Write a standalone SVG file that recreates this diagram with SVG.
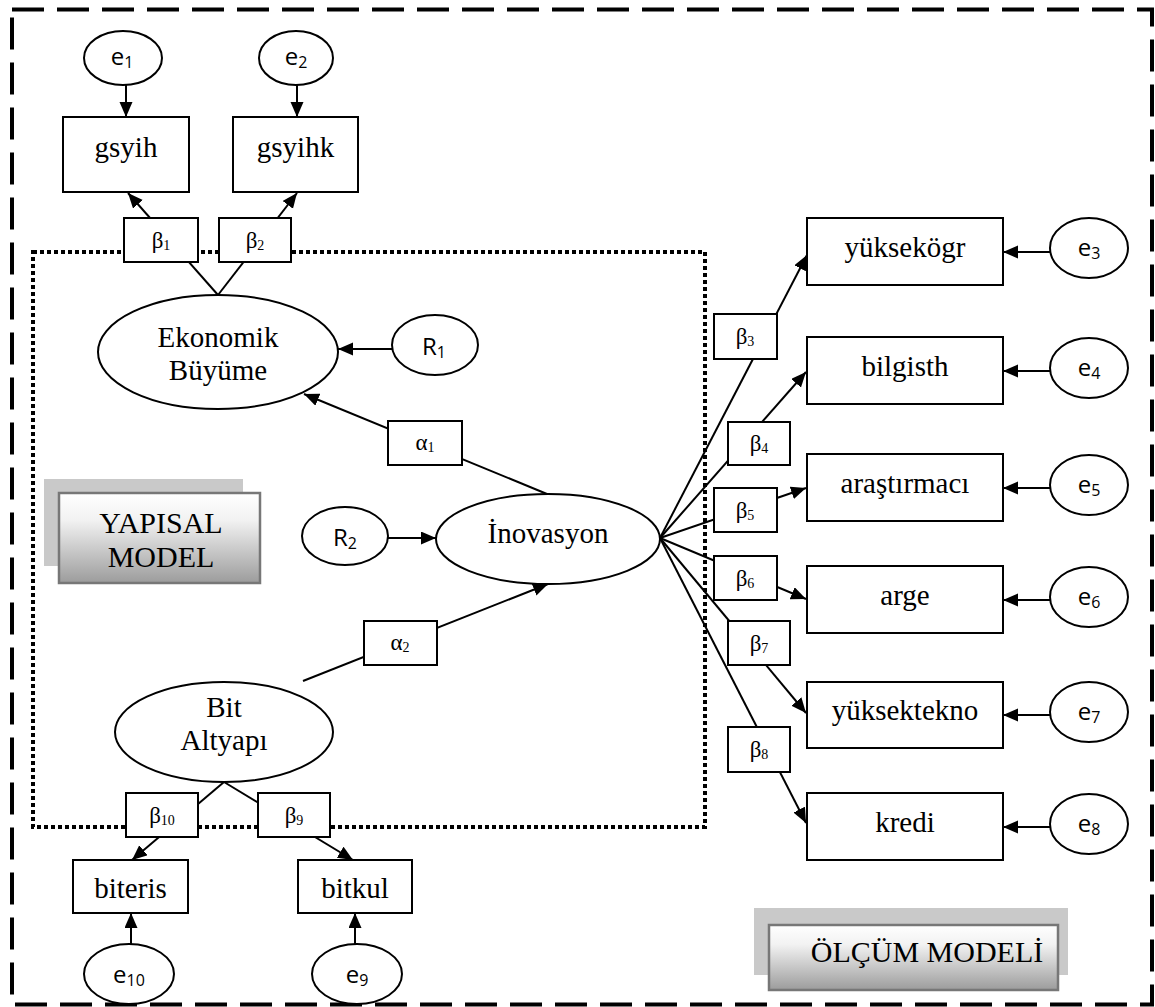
<svg xmlns="http://www.w3.org/2000/svg" width="1155" height="1007" viewBox="0 0 1155 1007">
  <defs>
    <marker id="arrow" markerUnits="userSpaceOnUse" markerWidth="16" markerHeight="14" refX="15" refY="6.5" orient="auto">
      <path d="M0,0 L15,6.5 L0,13 z" fill="#000"/>
    </marker>
    <linearGradient id="labelFill" x1="0" y1="0" x2="0" y2="1">
      <stop offset="0" stop-color="#ffffff"/>
      <stop offset="0.3" stop-color="#f2f2f2"/>
      <stop offset="1" stop-color="#9c9c9c"/>
    </linearGradient>
  </defs>
  <style>
    .node { fill: #fff; stroke: #000; stroke-width: 2; }
    .coef { fill: #fff; stroke: #000; stroke-width: 2; }
    .edge { stroke: #000; stroke-width: 2; fill: none; }
    .arr { marker-end: url(#arrow); }
    .lbl { font-family: "Liberation Serif", "Times New Roman", serif; font-size: 29px; fill: #000; text-anchor: middle; }
    .tagtxt { font-family: "Liberation Serif", "Times New Roman", serif; font-size: 30px; fill: #000; text-anchor: middle; }
    .sym { font-family: "Liberation Serif", "Times New Roman", serif; font-size: 23px; fill: #000; text-anchor: middle; }
    .sym tspan { font-size: 14px; }
    .err { font-family: "Open Sans", "Liberation Sans", sans-serif; font-size: 24px; fill: #000; text-anchor: middle; }
    .err tspan { font-size: 16px; }
    .shadow { fill: #c9c9c9; }
    .tag { fill: url(#labelFill); stroke: #777; stroke-width: 2.5; }
  </style>

  <!-- measurement model frame (dashed) and structural model frame (dotted) -->
  <rect x="12" y="9.5" width="1140" height="995" fill="none" stroke="#000" stroke-width="4" stroke-dasharray="32 13"/>
  <rect x="33" y="252" width="672" height="575" fill="none" stroke="#000" stroke-width="4" stroke-dasharray="4 3"/>

  <!-- connectors -->
  <g id="connectors">
    <line class="edge arr" x1="126" y1="85" x2="126" y2="117"/>
    <line class="edge arr" x1="297" y1="85" x2="297" y2="117"/>
    <line class="edge arr" x1="218" y1="295" x2="128" y2="193"/>
    <line class="edge arr" x1="218" y1="295" x2="297" y2="193"/>
    <line class="edge arr" x1="392" y1="349" x2="338" y2="349"/>
    <line class="edge arr" x1="547" y1="494" x2="304" y2="394"/>
    <line class="edge arr" x1="388" y1="538" x2="436" y2="538"/>
    <line class="edge arr" x1="303" y1="681" x2="548" y2="584"/>
    <line class="edge arr" x1="224" y1="782" x2="132" y2="860"/>
    <line class="edge arr" x1="224" y1="782" x2="353" y2="860"/>
    <line class="edge arr" x1="131" y1="944" x2="131" y2="913"/>
    <line class="edge arr" x1="355" y1="944" x2="355" y2="913"/>
    <line class="edge arr" x1="660" y1="538" x2="807" y2="255"/>
    <line class="edge arr" x1="660" y1="538" x2="806" y2="372"/>
    <line class="edge arr" x1="660" y1="538" x2="806" y2="488"/>
    <line class="edge arr" x1="660" y1="538" x2="806" y2="599"/>
    <line class="edge arr" x1="660" y1="538" x2="806" y2="713"/>
    <line class="edge arr" x1="660" y1="538" x2="806" y2="823"/>
    <line class="edge arr" x1="1050" y1="252" x2="1003" y2="252"/>
    <line class="edge arr" x1="1050" y1="371" x2="1003" y2="371"/>
    <line class="edge arr" x1="1050" y1="488" x2="1003" y2="488"/>
    <line class="edge arr" x1="1050" y1="600" x2="1003" y2="600"/>
    <line class="edge arr" x1="1050" y1="715" x2="1003" y2="715"/>
    <line class="edge arr" x1="1050" y1="827" x2="1003" y2="827"/>
  </g>

  <!-- path coefficients -->
  <g id="coef-b1"><rect class="coef" x="124" y="218" width="74" height="44"/><text class="sym" x="161" y="248">β<tspan dy="2">1</tspan></text></g>
  <g id="coef-b2"><rect class="coef" x="219" y="218" width="72" height="44"/><text class="sym" x="255" y="248">β<tspan dy="2">2</tspan></text></g>
  <g id="coef-a1"><rect class="coef" x="388" y="421" width="74" height="44"/><text class="sym" x="425" y="450">α<tspan dy="2">1</tspan></text></g>
  <g id="coef-a2"><rect class="coef" x="364" y="621" width="73" height="44"/><text class="sym" x="400" y="650">α<tspan dy="2">2</tspan></text></g>
  <g id="coef-b10"><rect class="coef" x="126" y="793" width="72" height="44"/><text class="sym" x="162" y="823">β<tspan dy="2">10</tspan></text></g>
  <g id="coef-b9"><rect class="coef" x="258" y="793" width="72" height="44"/><text class="sym" x="294" y="823">β<tspan dy="2">9</tspan></text></g>
  <g id="coef-b3"><rect class="coef" x="714" y="314" width="63" height="45"/><text class="sym" x="745" y="344">β<tspan dy="2">3</tspan></text></g>
  <g id="coef-b4"><rect class="coef" x="728" y="422" width="62" height="43"/><text class="sym" x="759" y="451">β<tspan dy="2">4</tspan></text></g>
  <g id="coef-b5"><rect class="coef" x="714" y="488" width="63" height="44"/><text class="sym" x="745" y="518">β<tspan dy="2">5</tspan></text></g>
  <g id="coef-b6"><rect class="coef" x="714" y="556" width="63" height="44"/><text class="sym" x="745" y="586">β<tspan dy="2">6</tspan></text></g>
  <g id="coef-b7"><rect class="coef" x="728" y="621" width="62" height="44"/><text class="sym" x="759" y="651">β<tspan dy="2">7</tspan></text></g>
  <g id="coef-b8"><rect class="coef" x="728" y="727" width="62" height="45"/><text class="sym" x="759" y="757">β<tspan dy="2">8</tspan></text></g>

  <!-- latent variables -->
  <g id="ekonomik-buyume"><ellipse class="node" cx="218" cy="352" rx="120" ry="57"/><text class="lbl" x="218" y="347">Ekonomik</text><text class="lbl" x="218" y="380">Büyüme</text></g>
  <g id="inovasyon"><ellipse class="node" cx="548" cy="539" rx="112" ry="45"/><text class="lbl" x="548" y="543">İnovasyon</text></g>
  <g id="bit-altyapi"><ellipse class="node" cx="224" cy="732" rx="109" ry="50"/><text class="lbl" x="224" y="717">Bit</text><text class="lbl" x="224" y="750">Altyapı</text></g>

  <!-- disturbances -->
  <g id="R1"><ellipse class="node" cx="435" cy="345" rx="43" ry="30"/><text class="err" x="434" y="355">R<tspan dy="3">1</tspan></text></g>
  <g id="R2"><ellipse class="node" cx="345" cy="536" rx="43" ry="29"/><text class="err" x="345" y="546">R<tspan dy="3">2</tspan></text></g>

  <!-- observed indicators -->
  <g id="gsyih"><rect class="node" x="63" y="117" width="126" height="75"/><text class="lbl" x="126" y="157">gsyih</text></g>
  <g id="gsyihk"><rect class="node" x="233" y="117" width="125" height="75"/><text class="lbl" x="295.5" y="157">gsyihk</text></g>
  <g id="biteris"><rect class="node" x="73" y="860" width="115" height="53"/><text class="lbl" x="130.5" y="898">biteris</text></g>
  <g id="bitkul"><rect class="node" x="298" y="860" width="114" height="53"/><text class="lbl" x="355" y="898">bitkul</text></g>
  <g id="yuksekogr"><rect class="node" x="807" y="218" width="196" height="67"/><text class="lbl" x="905" y="257">yüksekögr</text></g>
  <g id="bilgisth"><rect class="node" x="807" y="337" width="196" height="67"/><text class="lbl" x="905" y="376">bilgisth</text></g>
  <g id="arastirmaci"><rect class="node" x="807" y="454" width="196" height="67"/><text class="lbl" x="905" y="493">araştırmacı</text></g>
  <g id="arge"><rect class="node" x="807" y="566" width="196" height="67"/><text class="lbl" x="905" y="605">arge</text></g>
  <g id="yuksektekno"><rect class="node" x="807" y="682" width="196" height="66"/><text class="lbl" x="905" y="720">yüksektekno</text></g>
  <g id="kredi"><rect class="node" x="807" y="793" width="196" height="67"/><text class="lbl" x="905" y="832">kredi</text></g>

  <!-- measurement errors -->
  <g id="e1"><ellipse class="node" cx="123" cy="58" rx="39" ry="27"/><text class="err" x="122" y="65">e<tspan dy="3">1</tspan></text></g>
  <g id="e2"><ellipse class="node" cx="296" cy="58" rx="37" ry="27"/><text class="err" x="296" y="65">e<tspan dy="3">2</tspan></text></g>
  <g id="e3"><ellipse class="node" cx="1089" cy="248" rx="39" ry="30"/><text class="err" x="1089" y="256">e<tspan dy="3">3</tspan></text></g>
  <g id="e4"><ellipse class="node" cx="1089" cy="368" rx="39" ry="30"/><text class="err" x="1089" y="376">e<tspan dy="3">4</tspan></text></g>
  <g id="e5"><ellipse class="node" cx="1089" cy="485" rx="39" ry="30"/><text class="err" x="1089" y="493">e<tspan dy="3">5</tspan></text></g>
  <g id="e6"><ellipse class="node" cx="1089" cy="597" rx="39" ry="30"/><text class="err" x="1089" y="605">e<tspan dy="3">6</tspan></text></g>
  <g id="e7"><ellipse class="node" cx="1089" cy="712" rx="39" ry="30"/><text class="err" x="1089" y="720">e<tspan dy="3">7</tspan></text></g>
  <g id="e8"><ellipse class="node" cx="1089" cy="824" rx="39" ry="30"/><text class="err" x="1089" y="832">e<tspan dy="3">8</tspan></text></g>
  <g id="e9"><ellipse class="node" cx="357" cy="974" rx="45" ry="30"/><text class="err" x="357" y="983">e<tspan dy="3">9</tspan></text></g>
  <g id="e10"><ellipse class="node" cx="129" cy="974" rx="45" ry="30"/><text class="err" x="129" y="983">e<tspan dy="3">10</tspan></text></g>

  <!-- section captions -->
  <g id="yapisal-model">
    <rect class="shadow" x="44" y="479" width="199" height="87"/>
    <rect class="tag" x="59" y="493" width="201" height="90"/>
    <text class="tagtxt" x="161" y="533">YAPISAL</text>
    <text class="tagtxt" x="161" y="567">MODEL</text>
  </g>
  <g id="olcum-modeli">
    <rect class="shadow" x="754" y="908" width="314" height="67"/>
    <rect class="tag" x="769" y="925" width="289" height="65"/>
    <text class="tagtxt" x="927" y="962">ÖLÇÜM MODELİ</text>
  </g>
</svg>
